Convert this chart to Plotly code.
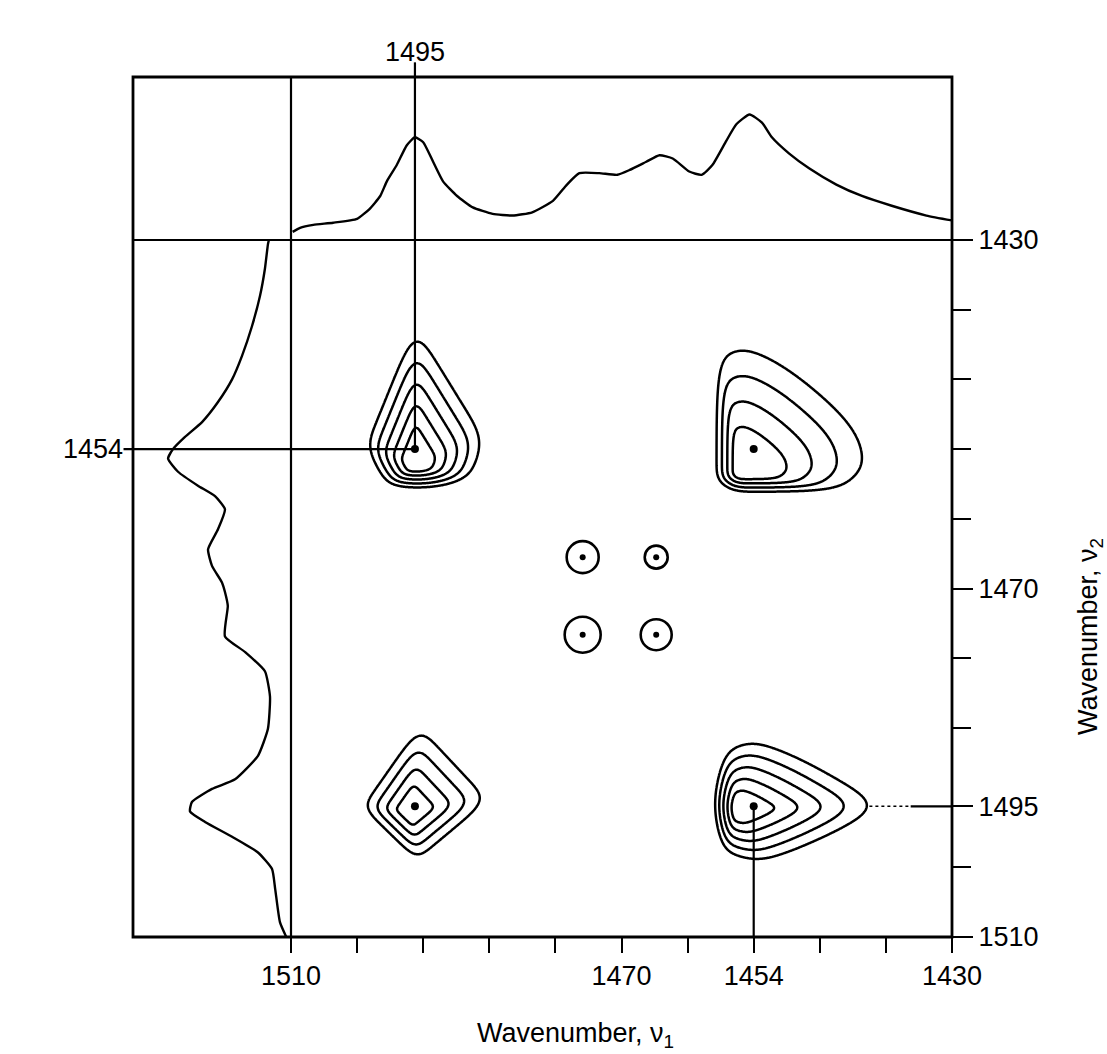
import numpy as np
import plotly.graph_objects as go

# ---------------- data ----------------
# top (nu1) spectrum: wavenumber, relative intensity (0 = baseline line, 1 = frame top)
top_wn = [1509.8, 1508.9, 1507.3, 1504.9, 1502.0, 1500.5, 1499.2, 1498.4, 1497.2, 1496.0,
          1495.0, 1494.0, 1492.8, 1491.6, 1489.9, 1488.0, 1485.6, 1483.2, 1480.8, 1478.3,
          1476.6, 1475.1, 1472.7, 1470.5, 1469.0, 1467.0, 1465.4, 1463.8, 1461.8, 1460.3,
          1459.0, 1457.3, 1456.1, 1454.5, 1453.0, 1451.8, 1449.7, 1447.3, 1444.0, 1440.9,
          1437.3, 1433.1, 1430.0]
top_int = [0.05, 0.075, 0.093, 0.106, 0.13, 0.19, 0.27, 0.36, 0.46, 0.58,
           0.63, 0.60, 0.48, 0.36, 0.27, 0.20, 0.16, 0.15, 0.17, 0.24,
           0.34, 0.41, 0.41, 0.40, 0.43, 0.48, 0.52, 0.50, 0.42, 0.40,
           0.46, 0.61, 0.71, 0.77, 0.72, 0.63, 0.53, 0.44, 0.34, 0.27,
           0.21, 0.15, 0.12]

# left (nu2) spectrum: wavenumber, relative intensity (0 = vertical line, 1 = frame left)
left_wn = [1430.0, 1430.5, 1433.3, 1436.4, 1439.9, 1443.3, 1446.0, 1448.6, 1450.9, 1452.6,
           1454.0, 1455.1, 1456.6, 1458.2, 1459.4, 1460.9, 1463.2, 1465.5, 1467.4, 1469.3,
           1470.4, 1472.0, 1475.5, 1477.3, 1479.5, 1482.4, 1486.1, 1489.2, 1491.9, 1493.0,
           1494.5, 1495.6, 1496.8, 1498.5, 1500.3, 1502.2, 1504.5, 1508.3, 1510.0]
left_int = [0.14, 0.146, 0.165, 0.196, 0.247, 0.31, 0.373, 0.462, 0.563, 0.671,
            0.747, 0.778, 0.715, 0.589, 0.481, 0.418, 0.462, 0.525, 0.50, 0.437,
            0.418, 0.40, 0.418, 0.29, 0.165, 0.133, 0.146, 0.209, 0.354, 0.50,
            0.627, 0.639, 0.544, 0.373, 0.209, 0.12, 0.10, 0.07, 0.03]

# tick values / labels
x_label_vals = [1510, 1470, 1454, 1430]
x_minor_vals = [1502, 1494, 1486, 1478, 1462, 1446, 1438]
y_label_vals = [1430, 1470, 1495, 1510]
y_minor_vals = [1438, 1446, 1454, 1462, 1478, 1486, 1502]

# cross peaks (nu1, nu2)
peak_nu1 = [1495, 1454, 1495, 1454]
peak_nu2 = [1454, 1454, 1495, 1495]
# outer contour outline of each peak, offsets (to the right, downward) in cm-1 from the peak
outline_a = [(0, -14.0), (8.7, -0.6), (6.3, 3.6), (1.2, 4.7), (-3.2, 4.2), (-6.0, 0)]
outline_b = [(-4.5, -10.8), (-3.2, -13.4), (-0.6, -13.8), (2.4, -12.5), (14.8, -0.3),
             (13.2, 3.8), (9.9, 4.9), (-2.6, 4.9), (-4.5, 3.6)]
outline_c = [(0.5, -9.1), (8.8, -0.7), (0.2, 6.1), (-6.3, 0.1)]
outline_d = [(-3.8, -6.0), (-1.2, -8.2), (1.8, -7.9), (15.6, 0), (3.8, 6.2), (0, 6.9),
             (-3.8, 5.0), (-5.0, 0)]
# point about which the nested contours shrink (offset right, down)
shrink_a = (0.1, 1.8)
shrink_b = (-1.4, 2.6)
shrink_c = (-0.5, 0.5)
shrink_d = (-1.9, 0.3)
# relative level of the innermost contour and number of contours
inner_level = [0.30, 0.37, 0.32, 0.28]
n_levels = [5, 4, 4, 5]

# small peaks
small_nu1 = [1474.7, 1465.8, 1474.7, 1465.8]
small_nu2 = [1466.4, 1466.4, 1475.3, 1475.3]
small_size = [32, 23, 36, 31]

# ---------------- layout geometry ----------------
W, H = 1107, 1054
ML, MR, MT, MB = 133, 155, 77, 117
PW, PH = W - ML - MR, H - MT - MB
d0 = (291 - ML) / PW          # split between left spectrum and map
dy = (937 - 240) / PH         # split between map and top spectrum

FONT = "Liberation Sans, Arial, sans-serif"
FS = 27


def gauge(xg, yg, cx, cy, verts, shrink, p=6):
    """Soft-polygon gauge: equals 1 on the outline, scales about the shrink point."""
    ox, oy = shrink
    R = (cx - xg) - ox
    D = (yg - cy) - oy
    acc = np.zeros_like(R)
    n = len(verts)
    for i in range(n):
        r0, q0 = verts[i][0] - ox, verts[i][1] - oy
        r1, q1 = verts[(i + 1) % n][0] - ox, verts[(i + 1) % n][1] - oy
        nr, nq = (q1 - q0), -(r1 - r0)
        h = nr * r0 + nq * q0
        if h < 0:
            nr, nq, h = -nr, -nq, -h
        t = np.maximum(0.0, (nr * R + nq * D) / h)
        acc = acc + t ** p
    return acc ** (1.0 / p)


fig = go.Figure()

outlines = [outline_a, outline_b, outline_c, outline_d]
shrinks = [shrink_a, shrink_b, shrink_c, shrink_d]
for k in range(4):
    cx, cy = peak_nu1[k], peak_nu2[k]
    xs = np.arange(cx - 18, cx + 9, 0.1)
    ys = np.arange(cy - 17, cy + 10, 0.1)
    XG, YG = np.meshgrid(xs, ys)
    z = gauge(XG, YG, cx, cy, outlines[k], shrinks[k]).astype(np.float32)
    lo = inner_level[k]
    step = (1.0 - lo) / (n_levels[k] - 1)
    fig.add_trace(go.Contour(
        x=xs.astype(np.float32), y=ys.astype(np.float32), z=z,
        xaxis="x", yaxis="y",
        contours=dict(start=lo, end=1.0001, size=step, coloring="lines"),
        colorscale=[[0, "black"], [1, "black"]],
        line=dict(width=2.5, smoothing=1.0),
        showscale=False, hoverinfo="skip"))

# peak centre dots
fig.add_trace(go.Scatter(x=peak_nu1, y=peak_nu2, mode="markers", xaxis="x", yaxis="y",
                         marker=dict(color="black", size=8), hoverinfo="skip"))
# small peaks: ring + centre dot
fig.add_trace(go.Scatter(x=small_nu1, y=small_nu2, mode="markers", xaxis="x", yaxis="y",
                         marker=dict(symbol="circle", size=small_size,
                                     color="rgba(255,255,255,0)", opacity=1,
                                     line=dict(width=2.6, color="black")),
                         hoverinfo="skip"))
fig.add_trace(go.Scatter(x=small_nu1, y=small_nu2, mode="markers", xaxis="x", yaxis="y",
                         marker=dict(symbol="circle", size=6, color="black"),
                         hoverinfo="skip"))

# top spectrum
fig.add_trace(go.Scatter(x=top_wn, y=top_int, mode="lines", xaxis="x", yaxis="y2",
                         line=dict(color="black", width=2.4, shape="spline", smoothing=0.5),
                         hoverinfo="skip"))
# left spectrum
fig.add_trace(go.Scatter(x=left_int, y=left_wn, mode="lines", xaxis="x3", yaxis="y",
                         line=dict(color="black", width=2.4, shape="spline", smoothing=0.5),
                         hoverinfo="skip"))

LW = 2.2
shapes = [
    dict(type="rect", xref="paper", yref="paper", x0=0, x1=1, y0=0, y1=1,
         line=dict(color="black", width=2.8)),
    dict(type="line", xref="paper", yref="paper", x0=d0, x1=d0, y0=0, y1=1,
         line=dict(color="black", width=LW)),
    dict(type="line", xref="paper", yref="paper", x0=0, x1=1, y0=dy, y1=dy,
         line=dict(color="black", width=LW)),
    # 1495 marker line (nu1) through map and top spectrum
    dict(type="line", xref="x", yref="y", x0=peak_nu1[0], x1=peak_nu1[0],
         y0=peak_nu2[0], y1=1430, line=dict(color="black", width=LW)),
    dict(type="line", xref="x", yref="y2 domain", x0=peak_nu1[0], x1=peak_nu1[0],
         y0=0, y1=1.09, line=dict(color="black", width=LW)),
    # 1454 marker line (nu2) through left spectrum and map
    dict(type="line", xref="x3 domain", yref="y", x0=-0.06, x1=1,
         y0=peak_nu2[0], y1=peak_nu2[0], line=dict(color="black", width=LW)),
    dict(type="line", xref="x", yref="y", x0=1510, x1=peak_nu1[0],
         y0=peak_nu2[0], y1=peak_nu2[0], line=dict(color="black", width=LW)),
    # 1495 line (nu2) from right peak to the axis
    dict(type="line", xref="x", yref="y", x0=1440.0, x1=1435,
         y0=peak_nu2[3], y1=peak_nu2[3], line=dict(color="black", width=1.5, dash="dot")),
    dict(type="line", xref="x", yref="y", x0=1435, x1=1430,
         y0=peak_nu2[3], y1=peak_nu2[3], line=dict(color="black", width=LW)),
    # 1454 line (nu1) from lower right peak to the axis
    dict(type="line", xref="x", yref="y", x0=peak_nu1[3], x1=peak_nu1[3],
         y0=peak_nu2[3], y1=1510, line=dict(color="black", width=LW)),
]

annotations = [
    dict(text="1495", x=peak_nu1[0], xref="x", y=1.05, yref="y2 domain",
         xanchor="center", yanchor="bottom", showarrow=False,
         font=dict(family=FONT, size=FS, color="black")),
    dict(text="1454", x=0, xref="x3 domain", y=peak_nu2[0], yref="y",
         xanchor="right", yanchor="middle", xshift=-8, showarrow=False,
         font=dict(family=FONT, size=FS, color="black")),
    dict(text="Wavenumber, ν<sub>1</sub>", x=(575 - ML) / PW, xref="paper",
         y=(937 - 1035) / PH, yref="paper", xanchor="center", yanchor="middle",
         showarrow=False, font=dict(family=FONT, size=FS, color="black")),
    dict(text="Wavenumber, ν<sub>2</sub>", x=(1090 - ML) / PW, xref="paper",
         y=(937 - 637) / PH, yref="paper", xanchor="center", yanchor="middle",
         textangle=-90, showarrow=False, font=dict(family=FONT, size=FS, color="black")),
]

tickfont = dict(family=FONT, size=FS, color="black")
fig.update_layout(
    width=W, height=H,
    margin=dict(l=ML, r=MR, t=MT, b=MB),
    paper_bgcolor="white", plot_bgcolor="white",
    showlegend=False,
    xaxis=dict(domain=[d0, 1], range=[1510, 1430], anchor="y",
               tickmode="array", tickvals=x_label_vals,
               ticks="outside", ticklen=15, tickwidth=2.2, tickcolor="black",
               minor=dict(tickmode="array", tickvals=x_minor_vals, ticks="outside",
                          ticklen=15, tickwidth=2.2, tickcolor="black", showgrid=False),
               tickfont=tickfont, showgrid=False, zeroline=False, showline=False),
    yaxis=dict(domain=[0, dy], range=[1510, 1430], anchor="x", side="right",
               tickmode="array", tickvals=y_label_vals,
               ticks="outside", ticklen=20, tickwidth=2.2, tickcolor="black",
               minor=dict(tickmode="array", tickvals=y_minor_vals, ticks="outside",
                          ticklen=18, tickwidth=2.2, tickcolor="black", showgrid=False),
               tickfont=tickfont, showgrid=False, zeroline=False, showline=False),
    yaxis2=dict(domain=[dy, 1], range=[0, 1], anchor="x", visible=False),
    xaxis3=dict(domain=[0, d0], range=[1, 0], anchor="y", visible=False),
    shapes=shapes,
    annotations=annotations,
)

fig.write_html("out.html",
               config={"displayModeBar": False},
               post_script="document.body.style.margin='0';"
                           "document.body.style.overflow='hidden';")
